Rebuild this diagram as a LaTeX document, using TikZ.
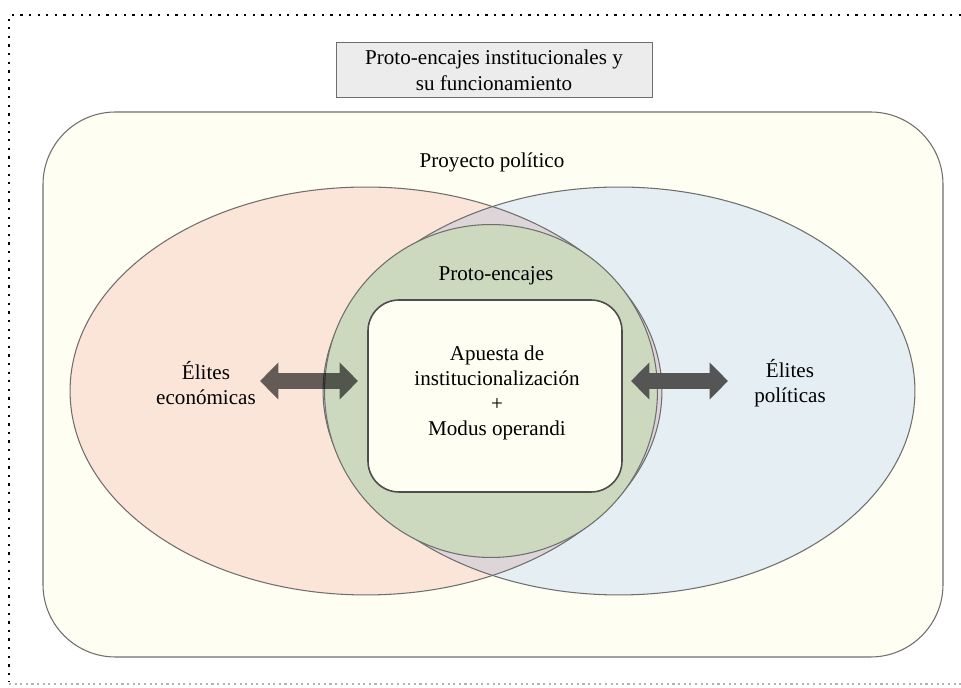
\documentclass[tikz,border=0pt]{standalone}
\usepackage{fontspec}
\setmainfont{Liberation Serif}
\usetikzlibrary{positioning,arrows.meta}
\definecolor{cream}{RGB}{254,254,242}
\definecolor{peach}{RGB}{251,229,217}
\definecolor{skyblue}{RGB}{229,238,242}
\definecolor{mauve}{RGB}{222,213,216}
\definecolor{sage}{RGB}{205,217,190}
\definecolor{titlegray}{RGB}{236,236,236}
\definecolor{edgegray}{RGB}{110,110,110}
\definecolor{arrowgray}{RGB}{85,85,85}
\tikzset{%
  region/.style   = { fill = #1, draw = edgegray, line width = 0.6pt },
  txt/.style      = { align = center, inner sep = 1pt, font = \fontsize{12}{14.2}\selectfont },
  bigarrow/.style = { draw = #1, line width = 9pt,
    {Triangle[width = 20.5pt, length = 10.5pt]}-{Triangle[width = 20.5pt, length = 10.5pt]} },
}

\begin{document}
\begin{tikzpicture}[x=0.02cm, y=-0.02cm]
    \useasboundingbox (0,0) rectangle (961,688);
    % frame ----------------------------------------------------------------------------------------
    \draw[line width = 1.3pt, dash pattern = on 1.3pt off 3.6pt] (961,15) -- (9,15) -- (9,682);
    \draw[gray!60, line width = 0.8pt, dash pattern = on 1.2pt off 2pt] (9,684) -- (961,684);
    % title
    \node(title) [txt, draw = edgegray, fill = titlegray, minimum width = 6.32cm, minimum height = 1.1cm,
      font = \fontsize{12}{14.8}\selectfont] at (494,70) {Proto-encajes institucionales y\\su funcionamiento};
    % regions --------------------------------------------------------------------------------------
    \path[region = cream, rounded corners = 1.45cm] (43,112) rectangle (943,657);
    \fill[peach]   (366,391) ellipse [x radius = 5.92cm, y radius = 4.08cm];
    \fill[skyblue] (619,391) ellipse [x radius = 5.92cm, y radius = 4.08cm];
    \begin{scope}
      \clip (366,391) ellipse [x radius = 5.92cm, y radius = 4.08cm];
      \fill[mauve] (619,391) ellipse [x radius = 5.92cm, y radius = 4.08cm];
    \end{scope}
    \draw[edgegray, line width = 0.6pt] (366,391) ellipse [x radius = 5.92cm, y radius = 4.08cm];
    \draw[edgegray, line width = 0.6pt] (619,391) ellipse [x radius = 5.92cm, y radius = 4.08cm];
    \path[region = sage] (491,391) circle [radius = 3.33cm];
    \path[region = cream, line width = 0.9pt, draw = edgegray!70!black, rounded corners = 0.62cm]
      (368,300) rectangle (622,492);
    % nodes ----------------------------------------------------------------------------------------
    \node(proyecto) [txt] at (492,162) {Proyecto político};
    \node(encajes)  [txt] at (496,276) {Proto-encajes};
    \node(apuesta)  [txt] at (497,393) {Apuesta de\\institucionalización\\+\\Modus operandi};
    \node(econ)     [txt] at (206,383) {Élites\\económicas};
    \node(poli)     [txt] at (790,383) {Élites\\políticas};
    % arrow ends (no box)
    \coordinate(e1) at (260,381);
    \coordinate(e2) at (358,381);
    \coordinate(p1) at (631,381);
    \coordinate(p2) at (728,381);
    % arrows ---------------------------------------------------------------------------------------
    \begin{scope}[transparency group, opacity = 0.6]
      \draw[bigarrow = black] (e1) -- (e2);
    \end{scope}
    \draw[bigarrow = arrowgray] (p1) -- (p2);
\end{tikzpicture}
\end{document}
